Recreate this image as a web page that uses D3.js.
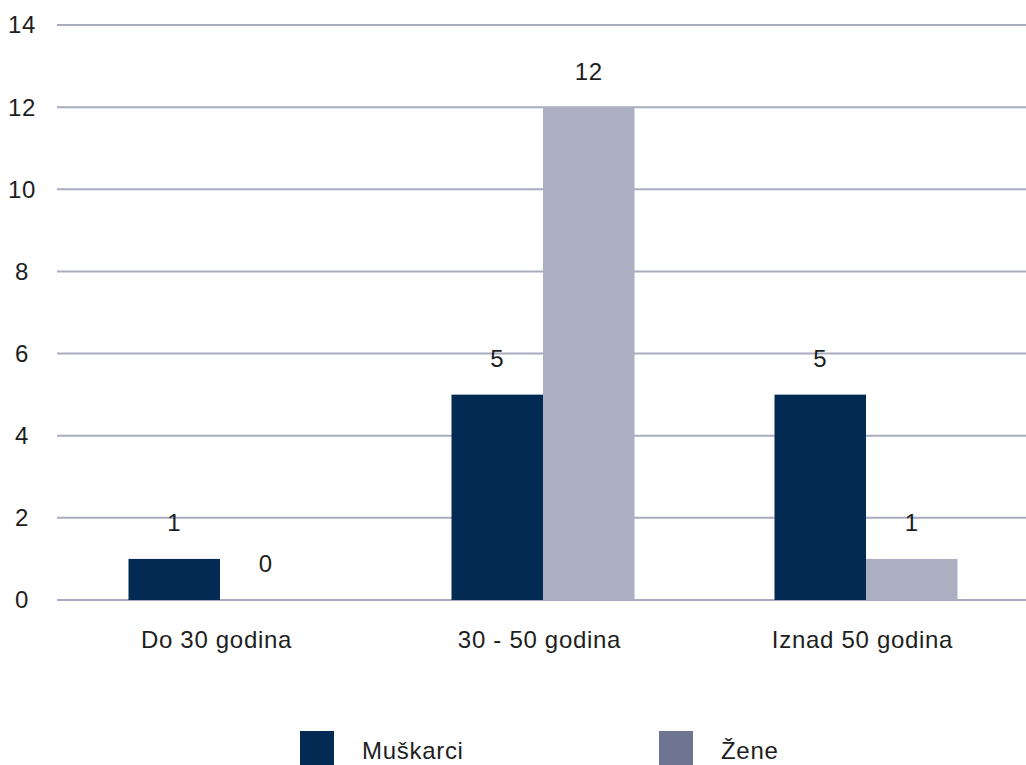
<!DOCTYPE html>
<html>
<head>
<meta charset="utf-8">
<script src="https://cdn.jsdelivr.net/npm/d3@7"></script>
<style>
  html, body { margin: 0; padding: 0; background: #fff; }
  svg { display: block; font-family: "Liberation Sans", Arial, sans-serif; }
</style>
</head>
<body>
<svg id="chart" width="1026" height="765"></svg>
<script>
// Age groups and employee counts per gender
const categories = ["Do 30 godina", "30 - 50 godina", "Iznad 50 godina"];
const seriesNames = ["Muškarci", "Žene"];
const muskarci = [1, 5, 5];
const zene = [0, 12, 1];
const yTicks = [0, 2, 4, 6, 8, 10, 12, 14];

const barColors = ["#032a52", "#acafc2"];
const legendColors = ["#032a52", "#6e7593"];
const textColor = "#1e1e1e";
const spacing = "0.7px";

const svg = d3.select("#chart");
const margin = { left: 57, right: 0 };
const W = 1026;

const x = d3.scaleBand().domain(categories).range([margin.left, W - margin.right]);
const xs = d3.scaleBand().domain(seriesNames).range([0, 183]);
const y = d3.scaleLinear().domain([0, 14]).range([600, 25]);

// horizontal grid lines
svg.append("g").selectAll("line").data(yTicks).join("line")
  .attr("x1", margin.left).attr("x2", W)
  .attr("y1", d => y(d)).attr("y2", d => y(d))
  .attr("stroke", "#a9abbf").attr("stroke-width", 2);

// y tick labels
svg.append("g").selectAll("text").data(yTicks).join("text")
  .attr("x", 22).attr("y", d => y(d))
  .attr("dy", "0.35em")
  .attr("text-anchor", "middle")
  .attr("font-size", 24).attr("letter-spacing", spacing).attr("fill", textColor)
  .text(d => d);

const rows = categories.map((c, i) => ({ cat: c, values: [muskarci[i], zene[i]] }));

const groups = svg.append("g").selectAll("g").data(rows).join("g")
  .attr("transform", d => `translate(${x(d.cat) + x.bandwidth() / 2 - 90},0)`);

const cells = d => d.values.map((v, j) => ({ v, s: seriesNames[j], j }));

groups.selectAll("rect").data(cells).join("rect")
  .attr("x", d => xs(d.s)).attr("width", xs.bandwidth())
  .attr("y", d => y(d.v)).attr("height", d => y(0) - y(d.v))
  .attr("fill", d => barColors[d.j]);

// value labels above bars
groups.selectAll("text").data(cells).join("text")
  .attr("x", d => xs(d.s) + xs.bandwidth() / 2)
  .attr("y", d => y(d.v) - 36)
  .attr("dy", "0.35em")
  .attr("text-anchor", "middle")
  .attr("font-size", 24).attr("letter-spacing", spacing).attr("fill", textColor)
  .text(d => d.v);

// category labels
svg.append("g").selectAll("text").data(categories).join("text")
  .attr("x", d => x(d) + x.bandwidth() / 2 - 2)
  .attr("y", 640).attr("dy", "0.35em")
  .attr("text-anchor", "middle")
  .attr("font-size", 24).attr("letter-spacing", spacing).attr("fill", textColor)
  .text(d => d);

// legend
const legendX = [300, 659];
const leg = svg.append("g").selectAll("g").data(seriesNames).join("g")
  .attr("transform", (d, i) => `translate(${legendX[i]},731)`);
leg.append("rect").attr("width", 34).attr("height", 34).attr("fill", (d, i) => legendColors[i]);
leg.append("text").attr("x", 62).attr("y", 20).attr("dy", "0.35em")
  .attr("font-size", 24).attr("letter-spacing", spacing).attr("fill", textColor).text(d => d);
</script>
</body>
</html>
